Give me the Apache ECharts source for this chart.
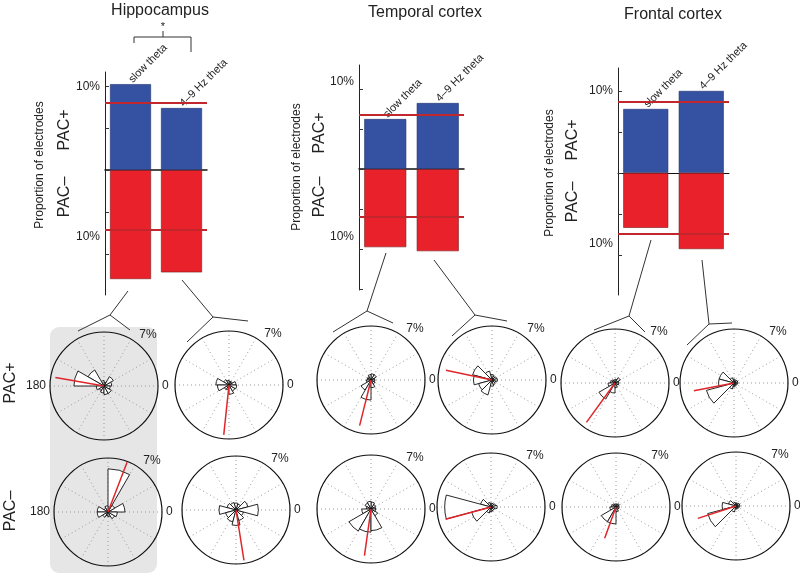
<!DOCTYPE html>
<html><head><meta charset="utf-8">
<script src="https://cdn.jsdelivr.net/npm/echarts/dist/echarts.min.js"></script>
<style>html,body{margin:0;padding:0;background:#fff}#main{width:800px;height:573px}</style>
</head><body><div id="main"></div>
<script>
// ---------- data ----------
const categories = ['slow theta', '4–9 Hz theta'];
const hippoPacPos = [10.25, 7.4];
const hippoPacNeg = [-13.0, -12.2];
const hippoChance = [8.0, -7.15];
const temporalPacPos = [6.25, 8.25];
const temporalPacNeg = [-9.75, -10.25];
const temporalChance = [6.75, -6.0];
const frontalPacPos = [7.8, 10.0];
const frontalPacNeg = [-6.7, -9.3];
const frontalChance = [8.7, -7.4];
const yTickValues = [-15, -10, -5, 0, 5, 10];
const yLabelValues = [-10, 10];

const roseBins = ['b1','b2','b3','b4','b5','b6','b7','b8','b9','b10','b11','b12'];
const angleTickLabels = ['0', '180'];
const radiusMaxLabel = '7%';
// rose histograms (% of electrodes per 30° bin), PAC+ row
const roseHippoSlowPos   = [1.0, 1.4, 0.5, 0.7, 2.4, 3.9, 1.0, 0.7, 0.9, 1.1, 1.1, 0.8];
const roseHippoFastPos   = [0.9, 0.5, 0.5, 0.6, 0.8, 1.7, 1.5, 0.7, 0.6, 1.2, 0.9, 1.0];
const roseTempSlowPos    = [0.5, 0.8, 0.8, 0.7, 0.5, 0.5, 0.6, 1.5, 2.6, 1.0, 0.6, 0.5];
const roseTempFastPos    = [0.6, 0.5, 0.7, 1.2, 2.6, 2.4, 1.8, 2.0, 0.8, 0.6, 0.5, 0.7];
const roseFrontSlowPos   = [0.5, 0.8, 0.5, 0.4, 0.5, 0.6, 0.9, 2.4, 1.3, 0.6, 0.4, 0.5];
const roseFrontFastPos   = [0.5, 0.4, 0.5, 0.7, 2.0, 2.0, 3.7, 0.8, 0.5, 0.4, 0.4, 0.5];
// PAC- row
const roseHippoSlowNeg   = [2.2, 1.0, 5.6, 0.8, 0.6, 1.4, 1.4, 0.8, 0.5, 0.6, 1.0, 1.2];
const roseHippoFastNeg   = [1.6, 0.8, 0.9, 1.0, 1.2, 2.2, 1.4, 1.6, 2.0, 1.4, 1.0, 2.9];
const roseTempSlowNeg    = [0.6, 0.7, 0.9, 1.0, 0.9, 0.6, 1.2, 3.3, 3.0, 2.8, 1.0, 0.6];
const roseTempFastNeg    = [0.6, 0.5, 0.5, 0.6, 1.4, 6.0, 2.6, 0.8, 0.6, 0.5, 0.5, 0.8];
const roseFrontSlowNeg   = [0.4, 0.5, 0.4, 0.4, 0.5, 0.6, 0.8, 2.2, 2.2, 0.6, 0.4, 0.4];
const roseFrontFastNeg   = [0.5, 0.4, 0.4, 0.5, 1.0, 1.8, 3.8, 0.8, 0.4, 0.4, 0.4, 0.5];
// mean phase vectors: [angle (deg), length (%)]
const meanHippoSlowPos = [170, 6.4];
const meanHippoFastPos = [264, 6.5];
const meanTempSlowPos  = [256, 6.1];
const meanTempFastPos  = [168, 6.1];
const meanFrontSlowPos = [234, 6.3];
const meanFrontFastPos = [191, 5.3];
const meanHippoSlowNeg = [69, 6.9];
const meanHippoFastNeg = [279, 6.6];
const meanTempSlowNeg  = [262, 6.1];
const meanTempFastNeg  = [195, 6.1];
const meanFrontSlowNeg = [250, 4.3];
const meanFrontFastNeg = [198, 5.2];

// ---------- layout / style ----------
const FONT = 'Liberation Sans, Arial, Helvetica, sans-serif';
const BLUE = '#3451a2', RED = '#e8212b', DARKRED = '#c1272d';
const R = 54;

const barCharts = [
  {pos: hippoPacPos, neg: hippoPacNeg, chance: hippoChance, grid:{left:105, top:72, width:102, height:223}, min:-14.9, max:11.7, barWidth:41, lowPad:34, zeroW:1.5},
  {pos: temporalPacPos, neg: temporalPacNeg, chance: temporalChance, grid:{left:359, top:65, width:105, height:225}, min:-15.1, max:13.0, barWidth:42, lowPad:24, upPad:14, zeroW:1.5},
  {pos: frontalPacPos, neg: frontalPacNeg, chance: frontalChance, grid:{left:618, top:68, width:111, height:227}, min:-14.9, max:12.8, barWidth:45, lowPad:22, zeroW:1}
];

const panels = [
  {rose: roseHippoSlowPos, mean: meanHippoSlowPos, center:[104,386], offset:0, left:true},
  {rose: roseHippoFastPos, mean: meanHippoFastPos, center:[229,385], offset:0},
  {rose: roseTempSlowPos,  mean: meanTempSlowPos,  center:[371,380], offset:0},
  {rose: roseTempFastPos,  mean: meanTempFastPos,  center:[492,380], offset:15},
  {rose: roseFrontSlowPos, mean: meanFrontSlowPos, center:[615,383], offset:0},
  {rose: roseFrontFastPos, mean: meanFrontFastPos, center:[734,383], offset:15},
  {rose: roseHippoSlowNeg, mean: meanHippoSlowNeg, center:[108,512], offset:0, left:true},
  {rose: roseHippoFastNeg, mean: meanHippoFastNeg, center:[236,510], offset:15},
  {rose: roseTempSlowNeg,  mean: meanTempSlowNeg,  center:[371,509], offset:0},
  {rose: roseTempFastNeg,  mean: meanTempFastNeg,  center:[491,507], offset:15},
  {rose: roseFrontSlowNeg, mean: meanFrontSlowNeg, center:[616,507], offset:0},
  {rose: roseFrontFastNeg, mean: meanFrontFastNeg, center:[736,506], offset:15}
];

const grid = [], xAxis = [], yAxis = [], series = [];
barCharts.forEach((b, g) => {
  grid.push(b.grid);
  xAxis.push({gridIndex:g, type:'category', data:categories,
    axisLine:{onZero:true, lineStyle:{color:'#111', width:b.zeroW}},
    axisTick:{show:false}, axisLabel:{show:false}, splitLine:{show:false}});
  yAxis.push({gridIndex:g, type:'value', min:b.min, max:b.max,
    axisLine:{show:true, onZero:false, lineStyle:{color:'#222', width:1}},
    axisTick:{show:true, inside:true, length:4, customValues:yTickValues, lineStyle:{color:'#333'}},
    axisLabel:{show:true, customValues:yLabelValues, margin:5, fontSize:12, color:'#222', fontFamily:FONT,
      formatter: v => v > 0 ? '{u|' + Math.abs(v) + '%}' : '{l|' + Math.abs(v) + '%}',
      rich:{u:{fontSize:12, fontFamily:FONT, color:'#222', padding:[0,0,b.upPad||0,0]},
            l:{fontSize:12, fontFamily:FONT, color:'#222', padding:[0,0,b.lowPad,0]}}},
    splitLine:{show:false}});
  series.push({type:'bar', xAxisIndex:g, yAxisIndex:g, stack:'s'+g, data:b.pos, barWidth:b.barWidth,
    itemStyle:{color:BLUE, borderColor:'#1f326e', borderWidth:0.6},
    label:{show:true, position:'top', distance:3, rotate:45, align:'left', verticalAlign:'middle',
      formatter: p => p.name, fontSize:11, color:'#222', fontFamily:FONT},
    silent:true});
  series.push({type:'bar', xAxisIndex:g, yAxisIndex:g, stack:'s'+g, data:b.neg, barWidth:b.barWidth,
    itemStyle:{color:RED, borderColor:'#7a1a1a', borderWidth:0.6}, silent:true,
    markLine:{silent:true, symbol:['none','none'], label:{show:false},
      lineStyle:{color:DARKRED, width:2, type:'solid'},
      data: b.chance.map(v => ({yAxis:v}))}});
});

const polar = [], angleAxis = [], radiusAxis = [];
panels.forEach((p, i) => {
  const fi = 2*i, bi = 2*i+1;
  polar.push({center:p.center, radius:R});
  polar.push({center:p.center, radius:R});
  angleAxis.push({polarIndex:fi, type:'value', min:0, max:360, interval:30, startAngle:0, clockwise:false,
    axisLine:{show:true, lineStyle:{color:'#111', width:1.2}}, axisTick:{show:false},
    axisLabel:{show:true, margin:4, fontSize:12, color:'#222', fontFamily:FONT,
      formatter: v => v === 0 ? angleTickLabels[0] : (v === 180 && p.left ? angleTickLabels[1] : '')},
    splitLine:{show:true, lineStyle:{color:'#9a9a9a', type:[1,3], width:1}}});
  angleAxis.push({polarIndex:bi, type:'category', data:roseBins, startAngle:p.offset, clockwise:false,
    boundaryGap:true, axisLine:{show:false}, axisTick:{show:false}, axisLabel:{show:false}, splitLine:{show:false}});
  radiusAxis.push({polarIndex:fi, type:'value', min:0, max:7, show:false});
  radiusAxis.push({polarIndex:bi, type:'value', min:0, max:7, show:false});
  series.push({type:'bar', coordinateSystem:'polar', polarIndex:bi, data:p.rose, barCategoryGap:'0%',
    itemStyle:{color:'#fff', borderColor:'#111', borderWidth:0.9}, silent:true, z:3});
  series.push({type:'line', coordinateSystem:'polar', polarIndex:fi,
    data:[[0, p.mean[0]], [p.mean[1], p.mean[0]]], symbol:'none',
    lineStyle:{color:'#e0262b', width:1.5}, silent:true, z:4});
});

// ---------- decorations ----------
const txt = (t, x, y, size, rot) => ({type:'text', x, y, rotation: rot || 0, silent:true,
  style:{text:t, fill:'#222', font: size + 'px ' + FONT, textAlign:'center', textVerticalAlign:'middle'}});
const line = (pts) => ({type:'polyline', silent:true, shape:{points:pts}, style:{stroke:'#333', lineWidth:1, fill:null}});
const V = Math.PI/2;
const graphic = [
  {type:'rect', z:-10, silent:true, shape:{x:50, y:327, width:107, height:246, r:9}, style:{fill:'#e6e6e6'}},
  txt('Hippocampus', 160, 11, 16), txt('Temporal cortex', 425, 13, 16), txt('Frontal cortex', 673, 15, 16),
  txt('Proportion of electrodes', 40, 165, 12, V), txt('Proportion of electrodes', 297, 167, 12, V), txt('Proportion of electrodes', 550, 173, 12, V),
  txt('PAC+', 65, 130, 16, V), txt('PAC–', 65, 197, 16, V),
  txt('PAC+', 320, 133, 16, V), txt('PAC–', 320, 197, 16, V),
  txt('PAC+', 573, 140, 16, V), txt('PAC–', 573, 202, 16, V),
  txt('PAC+', 11, 383, 16, V), txt('PAC–', 11, 511, 16, V),
  line([[134,43],[134,37],[191,37],[191,52]]), line([[163,37],[163,31]]), txt('*', 163, 27, 11),
  line([[128,291],[110,315]]), line([[78,331],[110,315],[130,330]]),
  line([[182,280],[213,317]]), line([[187,342],[213,317],[248,321]]),
  line([[386,253],[367,311]]), line([[333,332],[367,311],[393,323]]),
  line([[434,260],[475,315]]), line([[452,336],[475,315],[507,321]]),
  line([[651,240],[629,316]]), line([[594,330],[629,316],[645,332]]),
  line([[702,260],[709,324]]), line([[687,345],[709,324],[732,323]])
];
panels.forEach(p => graphic.push(txt(radiusMaxLabel, p.center[0] + 44, p.center[1] - 51, 12)));

const chart = echarts.init(document.getElementById('main'));
chart.setOption({
  animation:false,
  textStyle:{fontFamily:FONT},
  grid, xAxis, yAxis, polar, angleAxis, radiusAxis, series, graphic
});
</script></body></html>
